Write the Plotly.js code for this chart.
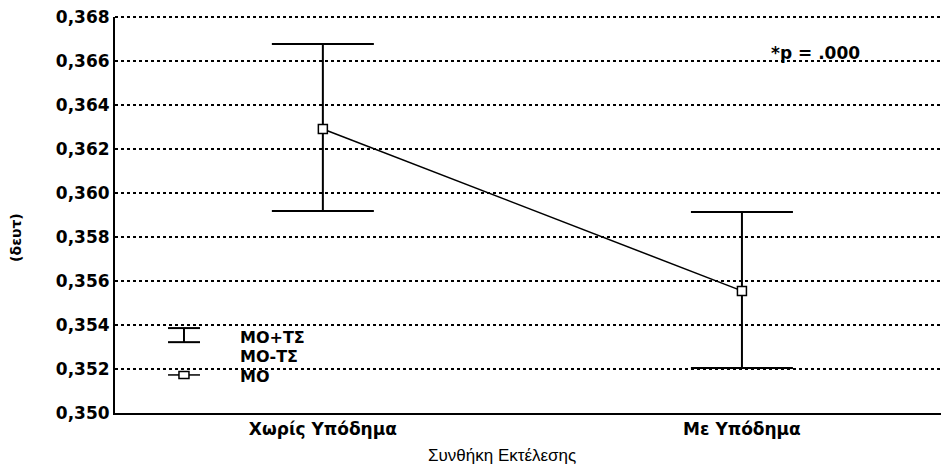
<!DOCTYPE html>
<html><head><meta charset="utf-8">
<script src="https://cdn.plot.ly/plotly-3.0.1.min.js"></script>
<style>html,body{margin:0;padding:0;background:#fff}#chart{width:941px;height:471px}</style>
</head><body><div id="chart"></div>
<script>
const categories = ['Χωρίς Υπόδημα', 'Με Υπόδημα'];
const means = [0.36291, 0.35555];
const upper = [0.36677, 0.35914];
const lower = [0.35918, 0.35205];
const legendLabels = ['ΜΟ+ΤΣ', 'ΜΟ-ΤΣ', 'ΜΟ'];
const pText = '*p = .000';
const xTitle = 'Συνθήκη Εκτέλεσης';
const yTitle = '(δευτ)';

const BOLD = 'DejaVu Sans, Verdana, sans-serif';
const REG = 'Liberation Sans, Arial, sans-serif';
const xIdx = categories.map((c, i) => i);

const trace = {
  type: 'scatter', mode: 'lines+markers',
  x: xIdx, y: means,
  line: {color: '#000', width: 1.5},
  marker: {symbol: 'square', size: 9, color: '#fff', line: {color: '#000', width: 1.5}},
  error_y: {
    type: 'data', symmetric: false,
    array: upper.map((u, i) => u - means[i]),
    arrayminus: means.map((m, i) => m - lower[i]),
    color: '#000', thickness: 2, width: 51
  },
  showlegend: false, hoverinfo: 'skip'
};

const layout = {
  width: 941, height: 471,
  margin: {l: 115, r: 0, t: 17, b: 58},
  paper_bgcolor: '#fff', plot_bgcolor: '#fff',
  separators: ',.',
  font: {family: BOLD, color: '#000'},
  xaxis: {
    range: [-0.496, 1.475],
    tickvals: xIdx, ticktext: categories,
    ticks: '', showgrid: false, zeroline: false,
    showline: true, linecolor: '#000', linewidth: 2,
    tickfont: {size: 17, family: BOLD, weight: 'bold'}
  },
  yaxis: {
    range: [0.350, 0.368],
    tickvals: [0.350, 0.352, 0.354, 0.356, 0.358, 0.360, 0.362, 0.364, 0.366, 0.368],
    tickformat: '.3f',
    ticks: '', zeroline: false,
    showgrid: true, gridcolor: '#000', griddash: 'dot', gridwidth: 1.5,
    showline: true, linecolor: '#000', linewidth: 2,
    tickfont: {size: 17, family: BOLD, weight: 'bold'}
  },
  shapes: [
    {type: 'line', xref: 'paper', yref: 'paper', x0: 0, x1: 1, y0: 1, y1: 1, line: {color: '#000', width: 2, dash: 'dot'}},
    // legend glyph: error bar
    {type: 'line', xref: 'paper', yref: 'y', x0: 0.0835, x1: 0.0835, y0: 0.35386, y1: 0.35322, line: {color: '#000', width: 2}},
    {type: 'line', xref: 'paper', yref: 'y', x0: 0.0642, x1: 0.1029, y0: 0.35386, y1: 0.35386, line: {color: '#000', width: 2}},
    {type: 'line', xref: 'paper', yref: 'y', x0: 0.0642, x1: 0.1029, y0: 0.35322, y1: 0.35322, line: {color: '#000', width: 2}},
    // legend glyph: mean
    {type: 'line', xref: 'paper', yref: 'y', x0: 0.0642, x1: 0.1029, y0: 0.35173, y1: 0.35173, line: {color: '#000', width: 1.5}},
    {type: 'rect', xref: 'paper', yref: 'y', xsizemode: 'pixel', ysizemode: 'pixel', xanchor: 0.0835, yanchor: 0.35173,
     x0: -5, x1: 5, y0: -3.5, y1: 3.5, fillcolor: '#fff', line: {color: '#000', width: 1.5}}
  ],
  annotations: [
    {xref: 'paper', yref: 'y', x: 0.149, y: 0.35345, xanchor: 'left', yanchor: 'middle', showarrow: false,
     text: legendLabels[0], font: {size: 16, family: BOLD, weight: 'bold'}},
    {xref: 'paper', yref: 'y', x: 0.149, y: 0.35259, xanchor: 'left', yanchor: 'middle', showarrow: false,
     text: legendLabels[1], font: {size: 16, family: BOLD, weight: 'bold'}},
    {xref: 'paper', yref: 'y', x: 0.149, y: 0.35168, xanchor: 'left', yanchor: 'middle', showarrow: false,
     text: legendLabels[2], font: {size: 16, family: BOLD, weight: 'bold'}},
    {xref: 'paper', yref: 'y', x: 0.8475, y: 0.36636, xanchor: 'center', yanchor: 'middle', showarrow: false,
     text: pText, font: {size: 17, family: BOLD, weight: 'bold'}},
    {xref: 'paper', yref: 'paper', x: 0.4685, y: -0.108, xanchor: 'center', yanchor: 'middle', showarrow: false,
     text: xTitle, font: {size: 17, family: REG}},
    {xref: 'paper', yref: 'y', x: -0.12, y: 0.358, xanchor: 'center', yanchor: 'middle', showarrow: false,
     textangle: -90, text: yTitle, font: {size: 14, family: BOLD, weight: 'bold'}}
  ]
};

Plotly.newPlot('chart', [trace], layout, {displayModeBar: false, staticPlot: true});
</script>
</body></html>
